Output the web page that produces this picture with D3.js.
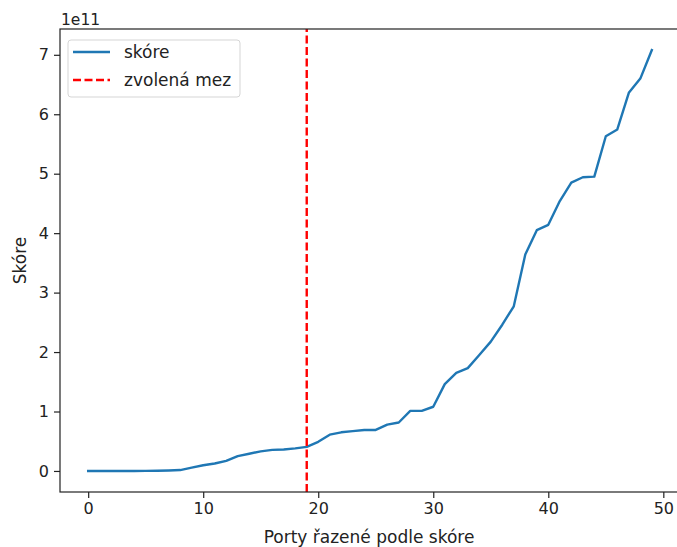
<!DOCTYPE html>
<meta charset="utf-8">
<script src="https://d3js.org/d3.v7.min.js"></script>
<style>
    body { margin: 0; background: white; }
    text { font-family: "DejaVu Sans", sans-serif; fill: #222; }
</style>
<div id="chart"></div>
<script>
    // data (score values in units of 1e11)
    var ports = d3.range(50);
    var scores = [0, 0, 0, 0, 0, 0.002, 0.004, 0.008, 0.015, 0.057,
        0.096, 0.125, 0.17, 0.25, 0.29, 0.33, 0.355, 0.36, 0.38, 0.405,
        0.49, 0.61, 0.65, 0.67, 0.69, 0.69, 0.78, 0.815, 1.01, 1.01,
        1.08, 1.46, 1.65, 1.73, 1.95, 2.175, 2.46, 2.77, 3.64, 4.05,
        4.14, 4.54, 4.85, 4.94, 4.95, 5.63, 5.745, 6.36, 6.6, 7.08];
    var cutoff = 19;
    var xTicks = [0, 10, 20, 30, 40, 50];
    var yTicks = [0, 1, 2, 3, 4, 5, 6, 7];
    var legendLabels = ['skóre', 'zvolená mez'];

    var width = 677,
        height = 547,
        margin = { top: 29, right: -3, bottom: 55, left: 60 };

    var svg = d3.select('#chart').append('svg')
        .attr('width', width)
        .attr('height', height);

    var xPad = (ports.length - 1) * 0.05,
        yMax = d3.max(scores),
        yPad = yMax * 0.05;

    var x = d3.scaleLinear()
        .domain([0 - xPad, ports.length - 1 + xPad])
        .range([margin.left, width - margin.right]);
    var y = d3.scaleLinear()
        .domain([0 - yPad, yMax + yPad])
        .range([height - margin.bottom, margin.top]);

    // line
    var line = d3.line()
        .x((d, i) => x(ports[i]))
        .y(d => y(d));

    svg.append('path')
        .datum(scores)
        .attr('d', line)
        .attr('fill', 'none')
        .attr('stroke', '#1f77b4')
        .attr('stroke-width', 2.4)
        .attr('stroke-linejoin', 'round')
        .attr('stroke-linecap', 'square');

    // cutoff
    svg.append('line')
        .attr('x1', x(cutoff)).attr('x2', x(cutoff))
        .attr('y1', y.range()[0]).attr('y2', y.range()[1])
        .attr('stroke', '#ff0000')
        .attr('stroke-width', 2.4)
        .attr('stroke-dasharray', '8,3.5');

    // axes
    var xAxis = svg.append('g')
        .attr('transform', `translate(0,${height - margin.bottom})`)
        .call(d3.axisBottom(x).tickValues(xTicks).tickSize(6).tickPadding(5));
    var yAxis = svg.append('g')
        .attr('transform', `translate(${margin.left},0)`)
        .call(d3.axisLeft(y).tickValues(yTicks).tickSize(6).tickPadding(5));

    [xAxis, yAxis].forEach(function(a) {
        a.select('.domain').remove();
        a.selectAll('line').attr('stroke', '#222').attr('stroke-width', 1.2);
        a.selectAll('text').style('font-size', '16px').attr('fill', '#222');
    });

    // frame
    svg.append('rect')
        .attr('x', x.range()[0]).attr('y', y.range()[1])
        .attr('width', x.range()[1] - x.range()[0])
        .attr('height', y.range()[0] - y.range()[1])
        .attr('fill', 'none')
        .attr('stroke', '#222')
        .attr('stroke-width', 1.2);

    // labels
    svg.append('text')
        .attr('x', 369)
        .attr('y', 543)
        .attr('text-anchor', 'middle')
        .style('font-size', '17px')
        .text('Porty řazené podle skóre');

    svg.append('text')
        .attr('transform', `translate(26,${(y.range()[0] + y.range()[1]) / 2}) rotate(-90)`)
        .attr('text-anchor', 'middle')
        .style('font-size', '17px')
        .text('Skóre');

    svg.append('text')
        .attr('x', margin.left + 1)
        .attr('y', 25)
        .style('font-size', '15.5px')
        .text('1e11');

    // legend
    var lg = svg.append('g').attr('transform', 'translate(68,40)');
    lg.append('rect')
        .attr('width', 172).attr('height', 57)
        .attr('rx', 3)
        .attr('fill', 'white').attr('fill-opacity', 0.8)
        .attr('stroke', '#d5d5d5');
    var styles = [{ c: '#1f77b4', dash: null }, { c: '#ff0000', dash: '8,3.5' }];
    legendLabels.forEach(function(lab, i) {
        var yy = 12 + i * 28;
        lg.append('line')
            .attr('x1', 5).attr('x2', 42)
            .attr('y1', yy).attr('y2', yy)
            .attr('stroke', styles[i].c)
            .attr('stroke-width', 2.4)
            .attr('stroke-dasharray', styles[i].dash);
        lg.append('text')
            .attr('x', 56).attr('y', yy + 6)
            .style('font-size', '17px')
            .text(lab);
    });
</script>
